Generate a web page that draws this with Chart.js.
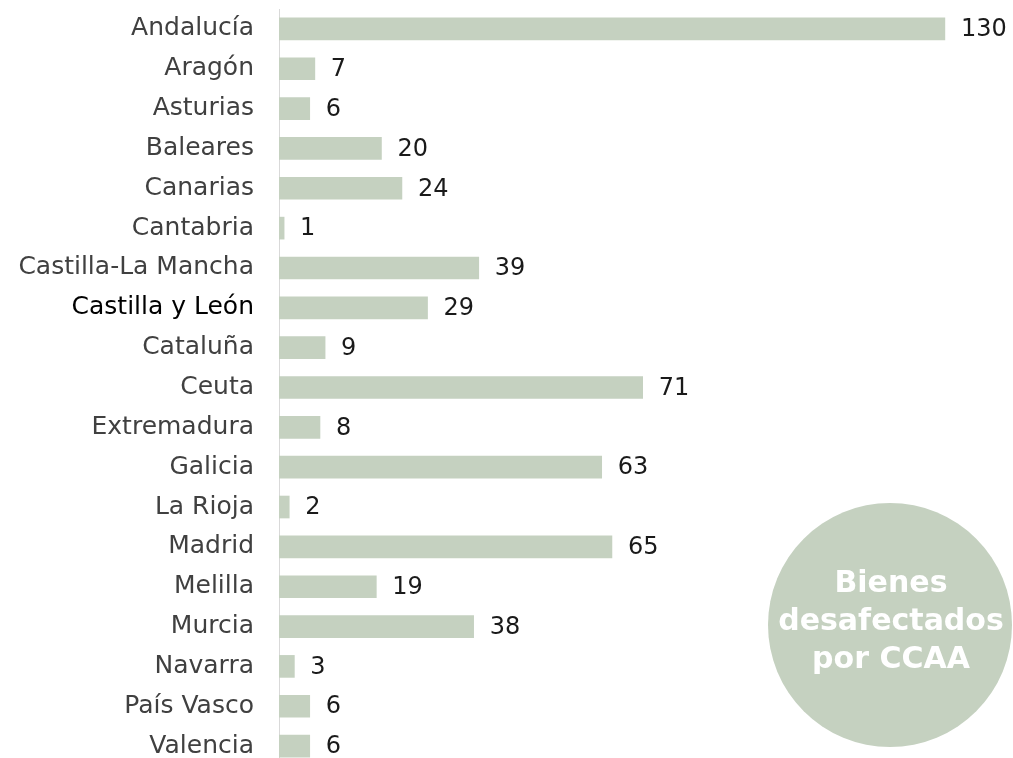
<!DOCTYPE html>
<html>
<head>
<meta charset="utf-8">
<script src="https://cdn.jsdelivr.net/npm/chart.js@4"></script>
<style>
  html, body { margin: 0; padding: 0; background: #fff; overflow: hidden; }
  #wrap { width: 1013px; height: 758px; overflow: hidden; }
</style>
</head>
<body>
<div id="wrap"><canvas id="ccaaChart" width="1013" height="766"></canvas></div>
<script>
const regiones = ['Andalucía', 'Aragón', 'Asturias', 'Baleares', 'Canarias', 'Cantabria',
  'Castilla-La Mancha', 'Castilla y León', 'Cataluña', 'Ceuta', 'Extremadura', 'Galicia',
  'La Rioja', 'Madrid', 'Melilla', 'Murcia', 'Navarra', 'País Vasco', 'Valencia'];
const bienes = [130, 7, 6, 20, 24, 1, 39, 29, 9, 71, 8, 63, 2, 65, 19, 38, 3, 6, 6];
const tituloCirculo = ['Bienes', 'desafectados', 'por CCAA'];

const verde = '#c5d1c0';
const fuente = '"DejaVu Sans", Verdana, sans-serif';

// numbers at the end of each bar
const etiquetas = {
  id: 'etiquetas',
  afterDatasetsDraw(chart) {
    const ctx = chart.ctx;
    const meta = chart.getDatasetMeta(0);
    ctx.save();
    ctx.font = '24px ' + fuente;
    ctx.fillStyle = '#1a1a1a';
    ctx.textAlign = 'left';
    ctx.textBaseline = 'middle';
    meta.data.forEach((bar, i) => {
      ctx.fillText(String(bienes[i]), bar.x + 16, bar.y + 1);
    });
    ctx.restore();
  }
};

// round badge bottom right
const circulo = {
  id: 'circulo',
  afterDraw(chart) {
    const ctx = chart.ctx;
    ctx.save();
    ctx.beginPath();
    ctx.arc(890, 625, 122, 0, Math.PI * 2);
    ctx.fillStyle = verde;
    ctx.fill();
    ctx.font = 'bold 30px ' + fuente;
    ctx.fillStyle = '#fff';
    ctx.textAlign = 'center';
    ctx.textBaseline = 'middle';
    tituloCirculo.forEach((t, i) => ctx.fillText(t, 891, 584 + i * 38));
    ctx.restore();
  }
};

const ctx = document.getElementById('ccaaChart').getContext('2d');
new Chart(ctx, {
  type: 'bar',
  data: {
    labels: regiones,
    datasets: [{
      data: bienes,
      backgroundColor: verde,
      borderWidth: 0,
      barThickness: 22
    }]
  },
  options: {
    indexAxis: 'y',
    responsive: false,
    animation: false,
    layout: { padding: { top: 9, right: 0, bottom: 0, left: 0 } },
    plugins: {
      legend: { display: false },
      tooltip: { enabled: false }
    },
    scales: {
      x: {
        display: false,
        min: 0,
        max: 143.3
      },
      y: {
        afterFit(scale) {
          scale.width = 279;
          scale.paddingTop = 0;
          scale.paddingBottom = 0;
        },
        grid: { display: false, drawTicks: false },
        border: { display: true, color: '#d9d9d9', width: 1 },
        ticks: {
          padding: 25,
          font: { family: fuente, size: 25 },
          color: (c) => c.index === 7 ? '#000000' : '#404040'
        }
      }
    }
  },
  plugins: [etiquetas, circulo]
});
</script>
</body>
</html>
